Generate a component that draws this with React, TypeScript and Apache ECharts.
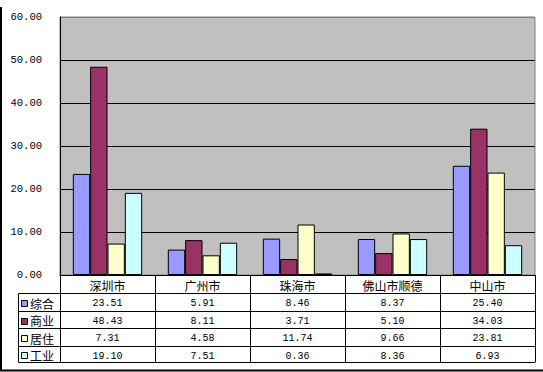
import React, { useEffect, useRef } from "react";
import * as echarts from "echarts";

const categories = ["深圳市", "广州市", "珠海市", "佛山市顺德", "中山市"];
const seriesNames = ["综合", "商业", "居住", "工业"];
const zonghe = [23.51, 5.91, 8.46, 8.37, 25.4];
const shangye = [48.43, 8.11, 3.71, 5.1, 34.03];
const juzhu = [7.31, 4.58, 11.74, 9.66, 23.81];
const gongye = [19.1, 7.51, 0.36, 8.36, 6.93];
const seriesValues = [zonghe, shangye, juzhu, gongye];
const seriesColors = ["#9999FF", "#993366", "#FFFFCC", "#CCFFFF"];
const yMin = 0;
const yMax = 60;
const yInterval = 10;

const W = 543;
const H = 372;
const GRID_LEFT = 60;
const GRID_RIGHT = 8;
const GRID_TOP = 17;
const GRID_BOTTOM = 97;
const PLOT_BOTTOM = H - GRID_BOTTOM;
const HEADER_H = 18;
const ROW_OFFSETS = [18, 36, 53, 71];
const TABLE_END = 87;
const KEY_LEFT = 18;

const MONO = "'Liberation Mono', 'DejaVu Sans Mono', monospace";
const CJK = "'Noto Sans CJK SC', sans-serif";

export default function App() {
  const ref = useRef<HTMLDivElement>(null);
  useEffect(() => {
    if (!ref.current) return;
    const chart = echarts.init(ref.current, null, { renderer: "svg" });
    const nLines = (yMax - yMin) / yInterval + 1;
    const splitColors = Array.from({ length: nLines }, (_, i) =>
      i === nLines - 1 ? "#808080" : "#000000"
    );

    const rowAxes = seriesValues.map((vals, i) => ({
      type: "category",
      gridIndex: 0,
      position: "bottom",
      offset: ROW_OFFSETS[i],
      data: vals.map((v) => v.toFixed(2)),
      axisLine: { show: true, lineStyle: { color: "#000", width: 1 } },
      axisTick: { show: false },
      axisLabel: {
        interval: 0,
        margin: 4,
        fontFamily: MONO,
        fontSize: 10,
        lineHeight: 12,
        color: "#000",
      },
      splitLine: { show: false },
    }));

    const bottomAxis = {
      type: "category",
      gridIndex: 0,
      position: "bottom",
      offset: TABLE_END,
      data: categories,
      axisLine: { show: true, lineStyle: { color: "#000", width: 1 } },
      axisTick: { show: false },
      axisLabel: { show: false },
      splitLine: { show: false },
    };

    const keyTop = PLOT_BOTTOM + HEADER_H;
    const keyBottom = PLOT_BOTTOM + TABLE_END;
    const rowEdges = [...ROW_OFFSETS, TABLE_END].map((o) => PLOT_BOTTOM + o);
    const keyGraphics: any[] = [
      {
        type: "rect",
        shape: { x: KEY_LEFT + 0.5, y: keyTop + 0.5, width: GRID_LEFT - KEY_LEFT, height: keyBottom - keyTop },
        style: { fill: "none", stroke: "#000", lineWidth: 1 },
        silent: true,
      },
      ...ROW_OFFSETS.slice(1).map((o) => ({
        type: "line",
        shape: { x1: KEY_LEFT, y1: PLOT_BOTTOM + o + 0.5, x2: GRID_LEFT, y2: PLOT_BOTTOM + o + 0.5 },
        style: { stroke: "#000", lineWidth: 1 },
        silent: true,
      })),
      ...seriesNames.flatMap((name, i) => {
        const cy = (rowEdges[i] + rowEdges[i + 1]) / 2 + 1;
        return [
          {
            type: "rect",
            shape: { x: KEY_LEFT + 3.5, y: Math.round(cy - 3) + 0.5, width: 6, height: 6 },
            style: { fill: seriesColors[i], stroke: "#000", lineWidth: 1 },
            silent: true,
          },
          {
            type: "text",
            x: KEY_LEFT + 12,
            y: cy,
            style: {
              text: name,
              fontFamily: CJK,
              fontSize: 12,
              fill: "#000",
              verticalAlign: "middle",
              align: "left",
            },
            silent: true,
          },
        ];
      }),
      {
        type: "polyline",
        shape: { points: [[1, 7], [1, H - 1.5], [W, H - 1.5]] },
        style: { fill: "none", stroke: "#000", lineWidth: 2 },
        silent: true,
      },
    ];

    chart.setOption({
      animation: false,
      backgroundColor: "#ffffff",
      grid: {
        left: GRID_LEFT,
        right: GRID_RIGHT,
        top: GRID_TOP,
        bottom: GRID_BOTTOM,
        show: true,
        backgroundColor: "#C0C0C0",
        borderColor: "#808080",
        borderWidth: 1,
      },
      xAxis: [
        {
          type: "category",
          gridIndex: 0,
          position: "bottom",
          data: categories,
          axisLine: { show: true, lineStyle: { color: "#000", width: 1 } },
          axisTick: { show: true, interval: 0, length: TABLE_END, lineStyle: { color: "#000", width: 1 } },
          axisLabel: { interval: 0, margin: 3, fontFamily: CJK, fontSize: 12, lineHeight: 14, color: "#000" },
          splitLine: { show: false },
        },
        ...rowAxes,
        bottomAxis,
      ],
      yAxis: {
        type: "value",
        min: yMin,
        max: yMax,
        interval: yInterval,
        axisLine: { show: true, lineStyle: { color: "#000" } },
        axisTick: { show: false },
        axisLabel: {
          margin: 18,
          fontFamily: MONO,
          fontSize: 10.5,
          color: "#000",
          formatter: (v: number) => v.toFixed(2),
        },
        splitLine: { show: true, lineStyle: { color: splitColors, width: 1 } },
      },
      series: seriesNames.map((name, i) => ({
        name,
        type: "bar",
        xAxisIndex: 0,
        yAxisIndex: 0,
        data: seriesValues[i],
        barGap: "0%",
        barCategoryGap: "27%",
        itemStyle: { color: seriesColors[i], borderColor: "#000", borderWidth: 1 },
      })),
      graphic: keyGraphics,
    });
    return () => chart.dispose();
  }, []);
  return (
    <div
      ref={ref}
      style={{ position: "fixed", left: 0, top: 0, width: W, height: H, background: "#fff" }}
    />
  );
}
